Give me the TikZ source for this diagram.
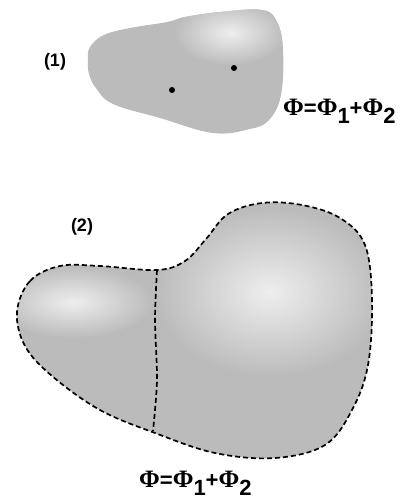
\documentclass[tikz,border=0pt]{standalone}
\usepackage{fontspec}
\setmainfont{Liberation Sans}
\newfontfamily\phifont{Liberation Serif}
\newcommand{\Ph}{{\phifont\fontsize{25}{28}\selectfont\char"03A6}}
\newcommand{\low}[1]{\raisebox{-8pt}{#1}}
\begin{document}
\begin{tikzpicture}[x=1pt,y=-1pt,
  lbl/.style={font=\fontsize{18}{21}\selectfont\bfseries,inner sep=0pt},
  eq/.style={font=\fontsize{22}{25}\selectfont\bfseries,inner sep=0pt,anchor=base west},
  dot/.style={circle,fill=black,inner sep=0pt,minimum size=6pt},
  edge/.style={line width=1.7pt,dash pattern=on 5pt off 3pt}]
\definecolor{blobgray}{RGB}{187,187,187}
\definecolor{glow}{RGB}{238,238,238}
\useasboundingbox (0,0) rectangle (401,500);
% region (1)
\def\one{plot[smooth cycle,tension=0.65] coordinates {(90,47) (104,35) (130,28) (167,22) (185,17) (220,12) (262,10) (277,22) (283,50) (281,95) (269,120) (250,129) (213,133) (160,118) (113,104) (96,88) (89,74) (88,60)}}
\fill[blobgray] \one;
\begin{scope}
\clip \one;
\shade[inner color=glow,outer color=blobgray] (230,33) ellipse (56 and 32);
\end{scope}
\node[dot] (p1) at (234,68) {};
\node[dot] (p2) at (172,90) {};
\node[lbl] (l1) at (55,62) {(1)};
\node[eq] (f1) at (283,115) {\Ph=\Ph\low{1}+\Ph\low{2}};
% region (2)
\def\two{plot[smooth cycle,tension=0.6] coordinates {(17,312) (30,281) (60,266) (100,266) (157,270) (185,261) (206,239) (228,214) (262,203) (302,205) (340,218) (365,245) (372,300) (368,365) (352,410) (325,445) (275,458) (215,453) (155,433) (100,410) (52,376) (25,346)}}
\fill[blobgray] \two;
\begin{scope}
\clip \two;
\shade[inner color=glow,outer color=blobgray] (270,292) ellipse (115 and 85);
\shade[inner color=glow,outer color=blobgray] (73,302) ellipse (80 and 36);
\end{scope}
\draw[edge] \two;
\draw[edge] plot[smooth] coordinates {(157,270) (155,320) (157,380) (153,431)};
\node[lbl] (l2) at (82,227) {(2)};
\node[eq] (f2) at (139,487) {\Ph=\Ph\low{1}+\Ph\low{2}};
\end{tikzpicture}
\end{document}
